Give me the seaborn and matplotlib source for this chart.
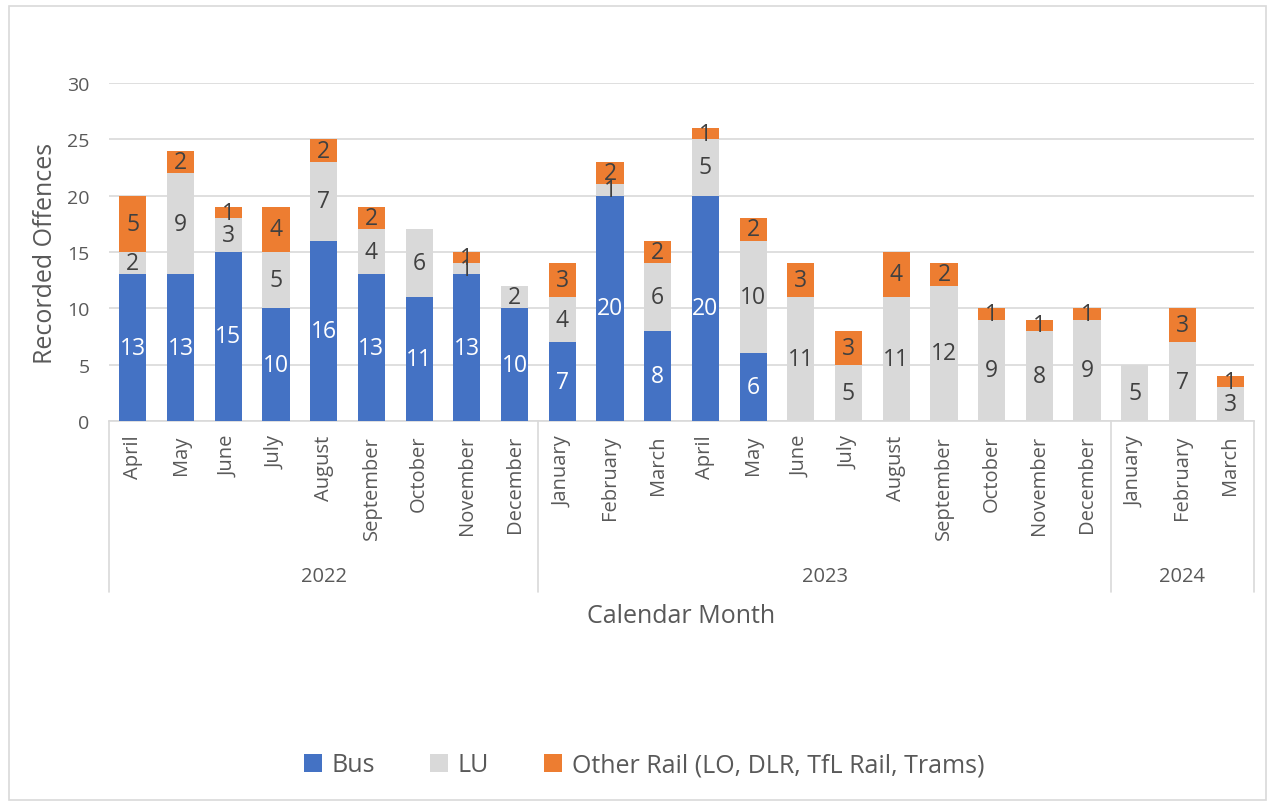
import numpy as np
import pandas as pd
import seaborn as sns
import matplotlib.pyplot as plt
from matplotlib.patches import Rectangle, Patch

#==== data ====

months = ["April", "May", "June", "July", "August", "September", "October", "November", "December",
          "January", "February", "March", "April", "May", "June", "July", "August", "September",
          "October", "November", "December",
          "January", "February", "March"]
years = ["2022"] * 9 + ["2023"] * 12 + ["2024"] * 3
bus = [13, 13, 15, 10, 16, 13, 11, 13, 10,
       7, 20, 8, 20, 6, 0, 0, 0, 0, 0, 0, 0,
       0, 0, 0]
lu = [2, 9, 3, 5, 7, 4, 6, 1, 2,
      4, 1, 6, 5, 10, 11, 5, 11, 12, 9, 8, 9,
      5, 7, 3]
other = [5, 2, 1, 4, 2, 2, 0, 1, 0,
         3, 2, 2, 1, 2, 3, 3, 4, 2, 1, 1, 1,
         0, 3, 1]
series_names = ["Bus", "LU", "Other Rail (LO, DLR, TfL Rail, Trams)"]
colors = ["#4472C4", "#D9D9D9", "#ED7D31"]

df = pd.DataFrame({"month": months, "year": years, "Bus": bus, "LU": lu, "Other": other})
df["key"] = df["year"] + "-" + df["month"]
df["bus_lu"] = df["Bus"] + df["LU"]
df["total"] = df["bus_lu"] + df["Other"]
order = list(df["key"])

#==== plot ====

sns.set_style("white")
plt.rcParams["font.family"] = ["Open Sans", "DejaVu Sans"]
txt = "#595959"

fig = plt.figure(figsize=(12.68, 8.03), dpi=100)
ax = fig.add_axes([0.086, 0.4745, 0.903, 0.421])

# stacked bars drawn as overlaid cumulative totals
w = 0.57
for col, c, z in [("total", colors[2], 2), ("bus_lu", colors[1], 3), ("Bus", colors[0], 4)]:
    sns.barplot(data=df, x="key", y=col, order=order, color=c, width=w,
                saturation=1, edgecolor="none", linewidth=0, ax=ax, zorder=z)

# data labels
for i, row in df.iterrows():
    segs = [(row["Bus"], 0, "white"), (row["LU"], row["Bus"], "#404040"),
            (row["Other"], row["bus_lu"], "#404040")]
    for val, base, c in segs:
        if val > 0:
            ax.text(i, base + val / 2, str(val), ha="center", va="center",
                    fontsize=16.5, color=c, zorder=5)

ax.set_ylim(0, 30)
ax.set_xlim(-0.5, len(order) - 0.5)
ax.set_yticks(range(0, 31, 5))
ax.yaxis.grid(True, color="#D9D9D9", linewidth=1.2)
ax.set_axisbelow(True)
for s in ["top", "right", "left"]:
    ax.spines[s].set_visible(False)
ax.spines["bottom"].set_color("#D9D9D9")
ax.spines["bottom"].set_linewidth(1.2)
ax.tick_params(axis="y", length=0, labelsize=14, labelcolor=txt, pad=14)
ax.tick_params(axis="x", length=0, labelsize=14.5, labelcolor=txt, pad=10)
ax.set_xticks(range(len(order)))
ax.set_xticklabels(months, rotation=90, va="top")
ax.set_xlabel("")
ax.set_ylabel("")

# year group separators and labels
trans = ax.get_xaxis_transform()
bounds = [-0.5, 8.5, 20.5, 23.5]
for b in bounds:
    ax.plot([b, b], [0, -0.506], transform=trans, color="#D9D9D9", lw=1.2, clip_on=False)
for yr, a, b in zip(["2022", "2023", "2024"], bounds[:-1], bounds[1:]):
    ax.text((a + b) / 2, -0.46, yr, transform=trans, ha="center", va="center",
            fontsize=14.5, color=txt)

fig.text(0.537, 1 - 617 / 803, "Calendar Month", ha="center", va="center", fontsize=18, color=txt)
fig.text(46 / 1268, 1 - 253 / 803, "Recorded Offences", ha="center", va="center",
         rotation=90, fontsize=18, color=txt)

handles = [Patch(facecolor=c, edgecolor="none") for c in colors]
fig.legend(handles, series_names, loc="center", bbox_to_anchor=(0.508, 1 - 766 / 803),
           ncol=3, frameon=False, fontsize=18, labelcolor=txt, handlelength=0.7,
           handleheight=0.7, handletextpad=0.4, columnspacing=2.2)

fig.patches.append(Rectangle((9 / 1268, 0.002), 1 - 11 / 1268, 1 - 9 / 803,
                             transform=fig.transFigure, fill=False,
                             edgecolor="#D9D9D9", linewidth=1.2))

fig.savefig("out.png", dpi=100)
